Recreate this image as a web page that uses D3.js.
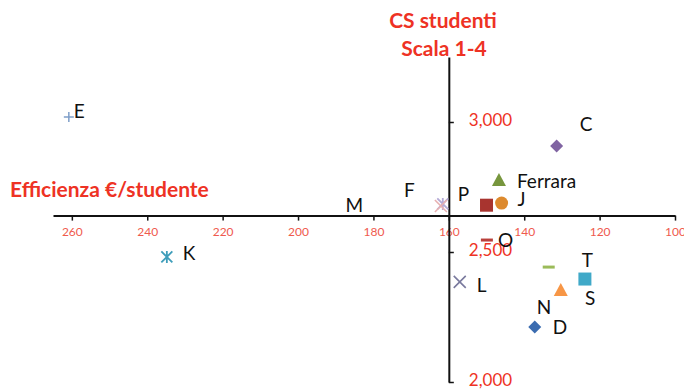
<!DOCTYPE html>
<html>
<head>
<meta charset="utf-8">
<script src="https://cdn.jsdelivr.net/npm/d3@7"></script>
<style>
  html, body { margin: 0; padding: 0; background: #fff; }
  svg { display: block; }
</style>
</head>
<body>
<svg id="chart" width="684" height="391"></svg>
<script>
// ---- data ----
const names   = ["E", "C", "Ferrara", "J", "M", "P", "F", "K", "O", "L", "T", "S", "N", "D"];
const effic   = [260.8, 131.4, 146.7, 146.0, 150.0, 161.6, 162.1, 234.8, 149.9, 157.1, 133.5, 123.9, 130.3, 137.2];
const csStud  = [3019, 2908, 2777, 2688, 2680, 2685, 2677, 2481, 2546, 2385, 2442, 2396, 2354, 2212];
const xTicks  = [260, 240, 220, 200, 180, 160, 140, 120, 100];
const yTicks  = [2000, 2500, 3000];
const xDomain = [265, 100];
const yDomain = [2000, 3250];
const xCross  = 2640;   // value of y where horizontal axis crosses
const yCross  = 160;    // value of x where vertical axis crosses

// ---- style ----
const markers = {
  "E": {shape: "plus", color: "#7f9fc9"},
  "C": {shape: "diamond", color: "#8064A2"},
  "Ferrara": {shape: "triangle", color: "#77963d"},
  "J": {shape: "circle", color: "#dd8a2e"},
  "M": {shape: "square", color: "#a8342f"},
  "P": {shape: "star", color: "#b4aad6"},
  "F": {shape: "x", color: "#e8b0b0"},
  "K": {shape: "star", color: "#3e9dba"},
  "O": {shape: "dash", color: "#b9403b"},
  "L": {shape: "x", color: "#7a7a9e"},
  "T": {shape: "dash", color: "#9BBB59"},
  "S": {shape: "square", color: "#40a9c8"},
  "N": {shape: "triangle", color: "#F79646"},
  "D": {shape: "diamond", color: "#3b6cb0"}
};
// label positions relative to marker (px): left edge, vertical centre
const labelOff = {
  "E": [5, -6], "C": [23, -22], "Ferrara": [18, 1], "J": [16, -4],
  "M": [-141, 0], "P": [15, -10], "F": [-37, -16], "K": [16, -4],
  "O": [11, 0], "L": [17, 3], "T": [33, -7], "S": [0, 19],
  "N": [-24, 17], "D": [18, 0]
};

const svg = d3.select("#chart");
const x = d3.scaleLinear().domain(xDomain).range([53, 675]);
const y = d3.scaleLinear().domain(yDomain).range([382, 57]);
const red = "#ee3224";
const tickRed = "#ef5a4e";
const font = "Lato, sans-serif";

// horizontal axis
const xAxis = d3.axisBottom(x).tickValues(xTicks).tickSize(5).tickSizeOuter(0).tickFormat(d3.format("d"));
const gx = svg.append("g").attr("transform", `translate(0,${y(xCross)})`).call(xAxis);
gx.select(".domain").attr("stroke", "#111").attr("stroke-width", 2);
gx.selectAll(".tick line").attr("stroke", "#111").attr("stroke-width", 1.5);
gx.selectAll(".tick text").attr("fill", tickRed).attr("font-family", font)
  .attr("font-size", 12).attr("y", 12).attr("dy", "0.71em");

// vertical axis
const yAxis = d3.axisRight(y).tickValues(yTicks).tickSize(5).tickSizeOuter(0).tickFormat(d3.format(","));
const gy = svg.append("g").attr("transform", `translate(${x(yCross)},0)`).call(yAxis);
gy.select(".domain").attr("stroke", "#111").attr("stroke-width", 2);
gy.selectAll(".tick line").attr("stroke", "#111").attr("stroke-width", 1.5);
gy.selectAll(".tick text").attr("fill", red).attr("font-family", font)
  .attr("font-size", 17).attr("x", 20).attr("dy", "0.2em");

// axis titles
function title(tx, ty, anchor, str) {
  svg.append("text").attr("x", tx).attr("y", ty).attr("text-anchor", anchor)
    .attr("fill", red).attr("font-family", font).attr("font-weight", "bold").attr("font-size", 21)
    .text(str);
}
title(443, 28, "middle", "CS studenti");
title(444, 56, "middle", "Scala 1-4");
title(10, 197, "start", "Efficienza €/studente");

// markers
const pts = names.map((n, i) => ({name: n, vx: effic[i], vy: csStud[i]}));
const g = svg.append("g");
pts.forEach(p => {
  const cx = x(p.vx), cy = y(p.vy);
  const m = markers[p.name];
  const c = m.color;
  const s = g.append("g").attr("transform", `translate(${cx},${cy})`);
  switch (m.shape) {
    case "diamond":
      s.append("path").attr("d", "M0,-6.5L6.5,0L0,6.5L-6.5,0Z").attr("fill", c); break;
    case "square":
      s.append("rect").attr("x", -6.5).attr("y", -6.5).attr("width", 13).attr("height", 13).attr("fill", c); break;
    case "triangle":
      s.append("path").attr("d", "M0,-7L7,6L-7,6Z").attr("fill", c); break;
    case "circle":
      s.append("circle").attr("r", 6.5).attr("fill", c); break;
    case "plus":
      s.append("path").attr("d", "M-5,0H5M0,-5V5").attr("stroke", c).attr("stroke-width", 1.5); break;
    case "x":
      s.append("path").attr("d", "M-6,-6L6,6M6,-6L-6,6").attr("stroke", c).attr("stroke-width", 1.6); break;
    case "star":
      s.append("path").attr("d", "M-5.5,-5.5L5.5,5.5M5.5,-5.5L-5.5,5.5M0,-6V6").attr("stroke", c).attr("stroke-width", 1.8); break;
    case "dash":
      s.append("path").attr("d", "M-6,0H6").attr("stroke", c).attr("stroke-width", 3); break;
  }
});

// point labels
pts.forEach(p => {
  const o = labelOff[p.name];
  g.append("text").attr("x", x(p.vx) + o[0]).attr("y", y(p.vy) + o[1])
    .attr("dy", "0.36em").attr("fill", "#111").attr("font-family", font).attr("font-size", 19)
    .text(p.name);
});
</script>
</body>
</html>
